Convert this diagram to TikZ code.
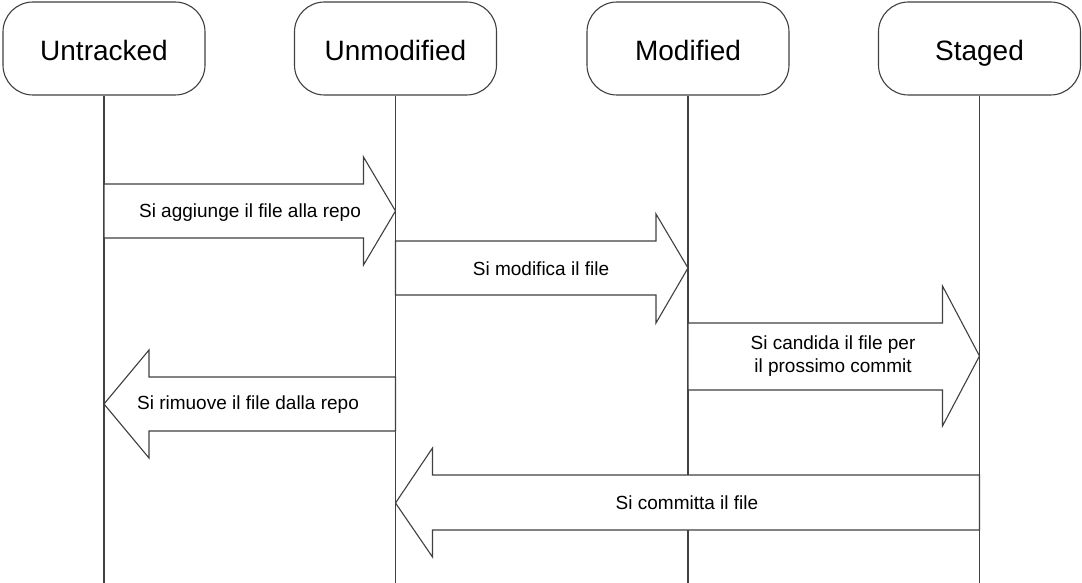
\documentclass[tikz,border=0pt]{standalone}
\usepackage{fontspec}
\setmainfont{Liberation Sans}
\usetikzlibrary{calc}
\tikzset{
  head/.style={draw=black!75, line width=1.1pt, fill=white, rounded corners=30pt,
    minimum width=202pt, minimum height=93pt, inner sep=0pt,
    text height=24pt, text depth=0pt,
    font=\fontsize{28}{32}\selectfont},
  life/.style={draw=black!75, line width=1.1pt},
  fat/.style={draw=black!75, line width=1.1pt, fill=white, line join=miter},
  lbl/.style={font=\fontsize{19}{23}\selectfont, align=center, inner sep=0pt}
}
\begin{document}
\begin{tikzpicture}[x=1pt,y=-1pt]
\useasboundingbox (0,0) rectangle (1082,583);
% lifeline heads
\node[head] (h1) at (104,48.5) {Untracked};
\node[head] (h2) at (395.5,48.5) {Unmodified};
\node[head] (h3) at (688,48.5) {Modified};
\node[head] (h4) at (979.5,48.5) {Staged};
% lifeline ends
\coordinate (e1) at (h1 |- 0,583);
\coordinate (e2) at (h2 |- 0,583);
\coordinate (e3) at (h3 |- 0,583);
\coordinate (e4) at (h4 |- 0,583);
\draw[life] (h1.south) -- (e1);
\draw[life] (h2.south) -- (e2);
\draw[life] (h3.south) -- (e3);
\draw[life] (h4.south) -- (e4);
% arrow 1: Untracked -> Unmodified
\draw[fat] (h1 |- 0,184) -- ($(h2 |- 0,184)+(-32,0)$) -- ($(h2 |- 0,157)+(-32,0)$)
  -- (h2 |- 0,211) -- ($(h2 |- 0,265)+(-32,0)$) -- ($(h2 |- 0,238)+(-32,0)$)
  -- (h1 |- 0,238) -- cycle;
\node[lbl] (l1) at (250,213) {Si aggiunge il file alla repo};
% arrow 2: Unmodified -> Modified
\draw[fat] (h2 |- 0,241) -- ($(h3 |- 0,241)+(-32,0)$) -- ($(h3 |- 0,214)+(-32,0)$)
  -- (h3 |- 0,268) -- ($(h3 |- 0,323)+(-32,0)$) -- ($(h3 |- 0,295)+(-32,0)$)
  -- (h2 |- 0,295) -- cycle;
\node[lbl] (l2) at (541,269) {Si modifica il file};
% arrow 3: Modified -> Staged
\draw[fat] (h3 |- 0,323) -- ($(h4 |- 0,323)+(-37,0)$) -- ($(h4 |- 0,286)+(-37,0)$)
  -- (h4 |- 0,356) -- ($(h4 |- 0,426)+(-37,0)$) -- ($(h4 |- 0,390)+(-37,0)$)
  -- (h3 |- 0,390) -- cycle;
\node[lbl] (l3) at (833,356) {Si candida il file per\\il prossimo commit};
% arrow 4: Unmodified -> Untracked
\draw[fat] (h2 |- 0,377) -- ($(h1 |- 0,377)+(45,0)$) -- ($(h1 |- 0,350)+(45,0)$)
  -- (h1 |- 0,404) -- ($(h1 |- 0,458)+(45,0)$) -- ($(h1 |- 0,431)+(45,0)$)
  -- (h2 |- 0,431) -- cycle;
\node[lbl] (l4) at (248,405) {Si rimuove il file dalla repo};
% arrow 5: Staged -> Unmodified
\draw[fat] (h4 |- 0,475) -- ($(h2 |- 0,475)+(37,0)$) -- ($(h2 |- 0,448)+(37,0)$)
  -- (h2 |- 0,503) -- ($(h2 |- 0,557)+(37,0)$) -- ($(h2 |- 0,530)+(37,0)$)
  -- (h4 |- 0,530) -- cycle;
\node[lbl] (l5) at (687,503) {Si committa il file};
\end{tikzpicture}
\end{document}
